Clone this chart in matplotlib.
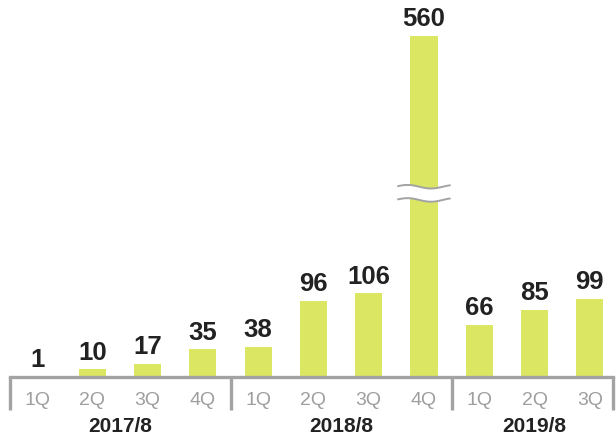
import numpy as np
import matplotlib
matplotlib.use("Agg")
import matplotlib.pyplot as plt
from matplotlib import transforms

quarters = ["1Q", "2Q", "3Q", "4Q", "1Q", "2Q", "3Q", "4Q", "1Q", "2Q", "3Q"]
values = [1, 10, 17, 35, 38, 96, 106, 560, 66, 85, 99]
years = ["2017/8", "2018/8", "2019/8"]
year_sizes = [4, 4, 3]

# broken axis: linear up to T, compressed above it
T = 200
K = 0.643
BREAK_LO, BREAK_HI = 237, 263

def fwd(y):
    y = np.asarray(y, dtype=float)
    return np.where(y <= T, y, T + (y - T) * K)

def inv(u):
    u = np.asarray(u, dtype=float)
    return np.where(u <= T, u, T + (u - T) / K)

plt.rcParams['font.family'] = ['Liberation Sans', 'DejaVu Sans']

BAR = "#dbe762"
GRAY = "#a3a3a3"
DARK = "#222222"

fig = plt.figure(figsize=(6.16, 4.35), dpi=100)
ax = fig.add_axes([10 / 616, 57 / 435, 603 / 616, 378 / 435])
ax.set_yscale('function', functions=(fwd, inv))
ax.set_ylim(0, 632)
ax.set_xlim(-0.49, 10.42)

x = np.arange(len(values))
ax.bar(x, values, width=0.49, color=BAR, zorder=2)

for xi, v in zip(x, values):
    ax.annotate(str(v), (xi, v), xytext=(0, 4), textcoords='offset points',
                ha='center', va='bottom', fontsize=18.5, fontweight='bold',
                color=DARK)

# wavy break on the tall bar
bx = values.index(max(values))
t = np.linspace(0, 1, 60)
wx = bx - 0.47 + 0.94 * t
wave = 3.5 * np.sin(2 * np.pi * (1.1 * t + 0.05))
ax.fill_between(wx, BREAK_LO + wave, BREAK_HI + wave, color='white', zorder=3, lw=0)
ax.plot(wx, BREAK_LO + wave, color=GRAY, lw=1.4, zorder=4, solid_capstyle='round')
ax.plot(wx, BREAK_HI + wave, color=GRAY, lw=1.4, zorder=4, solid_capstyle='round')

for s in ax.spines.values():
    s.set_visible(False)
ax.set_yticks([])
ax.yaxis.set_minor_locator(matplotlib.ticker.NullLocator())
ax.set_xticks(x)
ax.set_xticklabels(quarters, fontsize=14, color="#9e9e9e")
ax.tick_params(axis='x', length=0, pad=10)

# baseline with group separators
ax.axhline(0, color=GRAY, lw=2.4, zorder=5, clip_on=False)
trans = transforms.blended_transform_factory(ax.transData, ax.transAxes)
edges = [-0.49]
pos = 0
for n in year_sizes:
    pos += n
    edges.append(pos - 0.5)
edges[-1] = 10.42
for e in edges:
    ax.plot([e, e], [0, -0.088], color=GRAY, lw=2.4, transform=trans,
            clip_on=False, solid_capstyle='butt')

start = 0
for name, n in zip(years, year_sizes):
    ax.text(start + (n - 1) / 2, -0.143, name, transform=trans, ha='center',
            va='baseline', fontsize=15, fontweight='bold', color=DARK)
    start += n

fig.savefig("out.png", dpi=100)
